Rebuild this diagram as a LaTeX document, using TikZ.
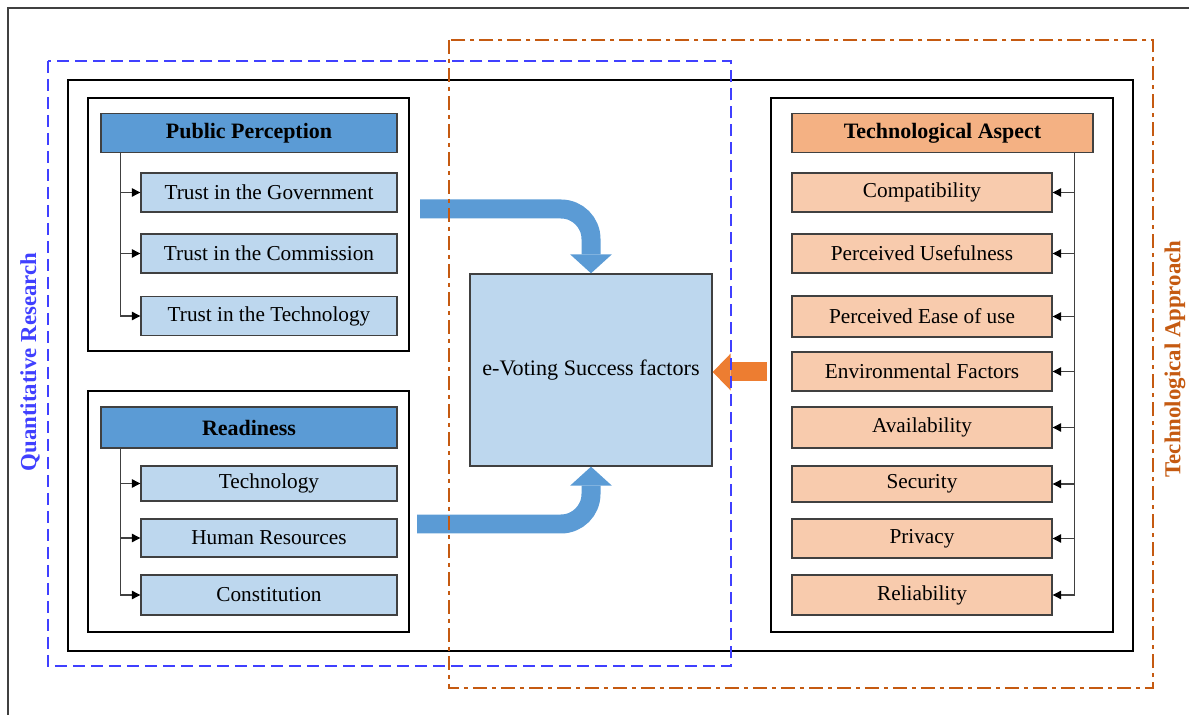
\documentclass[tikz,border=0pt]{standalone}
\usepackage{fontspec}
\setmainfont{Liberation Serif}
\usetikzlibrary{arrows.meta}
\definecolor{headBlue}{HTML}{5B9BD5}
\definecolor{itemBlue}{HTML}{BDD7EE}
\definecolor{headOrange}{HTML}{F4B183}
\definecolor{itemOrange}{HTML}{F8CBAD}
\definecolor{arrowOrange}{HTML}{ED7D31}
\definecolor{lineGray}{HTML}{404040}
\definecolor{quantBlue}{HTML}{4040FF}
\definecolor{techBrown}{HTML}{C55A11}
\newcommand{\boxTextSty}{\fontsize{12.1}{14}\selectfont}
\newcommand{\headTextSty}{\fontsize{12.5}{14}\selectfont\bfseries}
\newcommand{\sideLabelSty}{\fontsize{13}{15}\selectfont\bfseries}

\begin{document}
\begin{tikzpicture}[x=0.02cm, y=-0.02cm,
    headbox/.style={draw=lineGray, line width=0.8pt, minimum width=5.92cm, minimum height=0.78cm, inner sep=0pt, font=\headTextSty},
    itembox/.style={draw=lineGray, line width=0.8pt, minimum width=5.12cm, minimum height=0.78cm, inner sep=0pt, font=\boxTextSty},
    groupframe/.style={line width=1.3pt},
    treeline/.style={draw=lineGray, line width=0.6pt, -{Triangle[length=1.7mm, width=1.7mm, color=black]}},
    bluearrow/.style={draw=headBlue, line width=0.38cm, rounded corners=0.6cm, -{Triangle[length=0pt 1, width=0pt 2.2, line width=0pt]}},
    orangearrow/.style={draw=arrowOrange, line width=0.38cm, -{Triangle[length=0pt 0.95, width=0pt 1.95, line width=0pt]}}
  ]
    \useasboundingbox (0,0) rectangle (1189,715);

    % page frame
    \draw[lineGray, line width=1pt] (8,715) -- (8,8) -- (1189,8);

    % main frame
    \draw[line width=1.5pt] (68,80) rectangle (1133,651);

    % public perception
    \draw[groupframe] (88,98) rectangle (409,351);
    \node[headbox, fill=headBlue] (pp) at (249,133) {Public Perception};
    \node[itembox, fill=itemBlue] (tgov) at (269,192.5) {Trust in the Government};
    \node[itembox, fill=itemBlue] (tcom) at (269,253.5) {Trust in the Commission};
    \node[itembox, fill=itemBlue] (ttech) at (269,316) {Trust in the Technology};
    \foreach \n in {tgov,tcom,ttech}
      \draw[treeline] ([xshift=0.4cm]pp.south west) |- (\n.west);

    % readiness
    \draw[groupframe] (88,391) rectangle (409,632);
    \node[headbox, fill=headBlue, minimum height=0.82cm] (rd) at (249,427.5) {Readiness};
    \node[itembox, fill=itemBlue, minimum height=0.7cm] (rtech) at (269,483.5) {Technology};
    \node[itembox, fill=itemBlue, minimum height=0.76cm] (rhum) at (269,538) {Human Resources};
    \node[itembox, fill=itemBlue, minimum height=0.8cm] (rcon) at (269,595) {Constitution};
    \foreach \n in {rtech,rhum,rcon}
      \draw[treeline] ([xshift=0.4cm]rd.south west) |- (\n.west);

    % technological aspect
    \draw[groupframe] (771,98) rectangle (1113,632);
    \node[headbox, fill=headOrange, minimum width=6.02cm] (ta) at (942.5,133) {Technological Aspect};
    \node[itembox, fill=itemOrange, minimum width=5.2cm] (acomp) at (922,192.5) {Compatibility};
    \node[itembox, fill=itemOrange, minimum width=5.2cm] (ause) at (922,253.5) {Perceived Usefulness};
    \node[itembox, fill=itemOrange, minimum width=5.2cm, minimum height=0.82cm] (aease) at (922,316.5) {Perceived Ease of use};
    \node[itembox, fill=itemOrange, minimum width=5.2cm] (aenv) at (922,371.5) {Environmental Factors};
    \node[itembox, fill=itemOrange, minimum width=5.2cm, minimum height=0.82cm] (aavail) at (922,427.5) {Availability};
    \node[itembox, fill=itemOrange, minimum width=5.2cm, minimum height=0.72cm] (asec) at (922,484) {Security};
    \node[itembox, fill=itemOrange, minimum width=5.2cm] (apriv) at (922,538.5) {Privacy};
    \node[itembox, fill=itemOrange, minimum width=5.2cm, minimum height=0.8cm] (arel) at (922,595) {Reliability};
    \foreach \n in {acomp,ause,aease,aenv,aavail,asec,apriv,arel}
      \draw[treeline] ([xshift=-0.38cm]ta.south east) |- (\n.east);

    % success factors
    \node[draw=lineGray, line width=0.8pt, fill=itemBlue, minimum width=4.84cm, minimum height=3.84cm, inner sep=0pt, font=\fontsize{12.6}{14}\selectfont] (esf) at (591,370) {e-Voting Success factors};

    % big arrows
    \coordinate (ppIn) at (420,209);
    \coordinate (rdIn) at (417,524);
    \coordinate (taIn) at (767,372);
    \draw[bluearrow] (ppIn) -| (esf.north);
    \draw[bluearrow] (rdIn) -| (esf.south);
    \draw[orangearrow] (taIn) -- (esf.east |- taIn);

    % research frames
    \draw[quantBlue, line width=1.1pt, dash pattern=on 0.24cm off 0.12cm] (48,61) rectangle (731,666);
    \draw[techBrown, line width=1.1pt, dash pattern=on 0.28cm off 0.1cm on 0.08cm off 0.1cm] (449,40) rectangle (1153,688);

    % side labels
    \node[rotate=90, text=quantBlue, font=\sideLabelSty] (qr) at (30,362) {Quantitative Research};
    \node[rotate=90, text=techBrown, font=\sideLabelSty] (tap) at (1175,359) {Technological Approach};

\end{tikzpicture}
\end{document}
